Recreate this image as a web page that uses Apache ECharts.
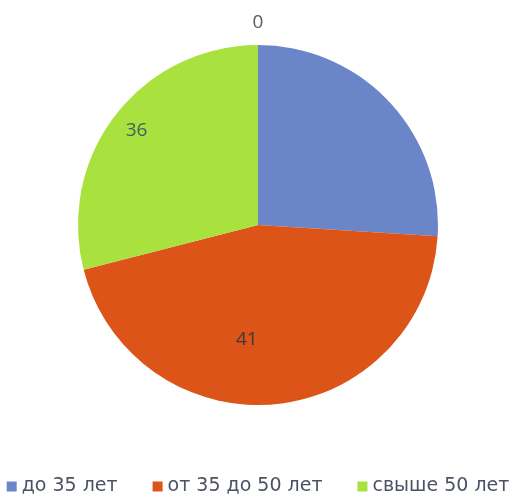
<!DOCTYPE html>
<html><head><meta charset="utf-8">
<script src="https://cdn.jsdelivr.net/npm/echarts@6/dist/echarts.min.js"></script>
<style>html,body{margin:0;padding:0;background:#fff}#c{width:516px;height:497px}</style>
</head><body><div id="c"></div>
<script>
const categories = ['до 35 лет', 'от 35 до 50 лет', 'свыше 50 лет'];
const sliceValues = [26, 45, 29];
// Data labels as printed on the chart
const labelTexts = ['0', '41', '36'];
const colors = ['#6a86c9', '#dd5418', '#a9e13f'];
const labelColors = ['#555a66', '#3a3a3a', '#3d6060'];
// label nudges relative to the default inside position
const labelNudge = [null, [-20, 22], [-48, -37]];

const chart = echarts.init(document.getElementById('c'));
chart.setOption({
  animation: false,
  color: colors,
  legend: {
    top: 477, left: 'center', padding: 0,
    itemWidth: 10, itemHeight: 10, itemGap: 35,
    icon: 'rect',
    textStyle: { fontFamily: 'DejaVu Sans', fontSize: 19, color: '#4a5264' },
    data: categories
  },
  series: [{
    type: 'pie',
    center: [258, 225],
    radius: 180,
    startAngle: 90,
    clockwise: true,
    avoidLabelOverlap: false,
    label: {
      position: 'inside',
      fontFamily: 'Open Sans',
      fontSize: 19,
      formatter: p => labelTexts[p.dataIndex]
    },
    labelLine: { show: false },
    labelLayout: function (p) {
      if (p.dataIndex === 0) {
        return { x: 258, y: 23, align: 'center', verticalAlign: 'middle' };
      }
      const n = labelNudge[p.dataIndex];
      return { dx: n[0], dy: n[1] };
    },
    data: categories.map((c, i) => ({
      name: c, value: sliceValues[i],
      label: { color: labelColors[i] }
    }))
  }]
});
</script></body></html>
